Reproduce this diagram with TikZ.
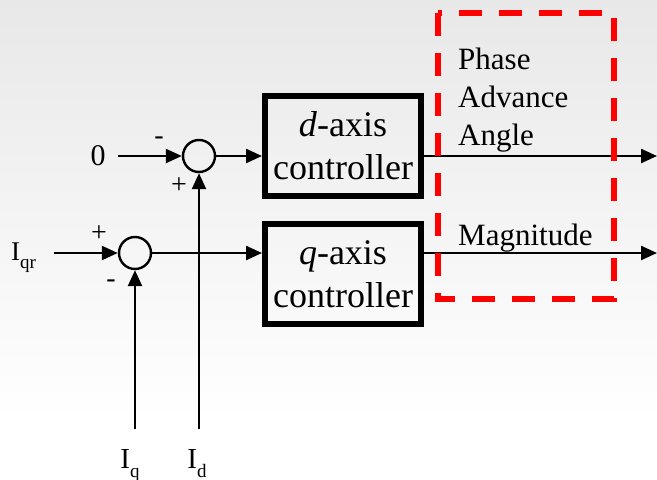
\documentclass[tikz,border=0pt]{standalone}
\usepackage{fontspec}
\setmainfont{Liberation Serif}
\usetikzlibrary{arrows.meta}
\newcommand{\mysub}[1]{\raisebox{-0.32em}{\fontsize{19}{19}\selectfont #1}}
\begin{document}
\begin{tikzpicture}[x=1pt,y=-1pt,
  conn/.style={line width=2.4pt,-{Triangle[length=16pt,width=14pt]}},
  sumj/.style={circle,draw,line width=2.4pt,minimum size=32pt,inner sep=0pt},
  ctrl/.style={draw,line width=6pt,minimum width=156pt,minimum height=100pt,inner sep=0pt,align=center,font=\fontsize{36}{43}\selectfont},
  lbl/.style={inner sep=0pt,anchor=base west,font=\fontsize{31}{38}\selectfont},
  sgn/.style={inner sep=0pt,font=\fontsize{28}{28}\selectfont},
  red box/.style={draw=red,line width=5.5pt,dash pattern=on 23pt off 17pt}]
\useasboundingbox (0,0) rectangle (657,480);
\shade[top color=black!9,bottom color=white] (0,0) rectangle (657,420);
\fill[white] (0,420) rectangle (657,480);
% summing junctions
\node[sumj] (s1) at (199,156) {};
\node[sumj] (s2) at (135,253) {};
% controllers
\node[ctrl] (d) at (343,145.5) {\textit{d}-axis\\controller};
\node[ctrl] (q) at (343,274) {\textit{q}-axis\\controller};
% inputs
\node[inner sep=0pt,anchor=base,font=\fontsize{30}{30}\selectfont] (zero) at (98,165) {0};
\node[inner sep=0pt,anchor=base west,font=\fontsize{27}{27}\selectfont] (iqr) at (11,260) {I\mysub{qr}};
\node[inner sep=0pt,anchor=base,font=\fontsize{29}{29}\selectfont] (iq) at (130,468) {I\mysub{q}};
\node[inner sep=0pt,anchor=base,font=\fontsize{29}{29}\selectfont] (id) at (197,468) {I\mysub{d}};
\coordinate (zin) at (118,156);
\coordinate (qrin) at (54,253);
\coordinate (iqb) at (135,429);
\coordinate (idb) at (199,429);
\coordinate (dout) at (657,156);
\coordinate (qout) at (657,253);
% signs
\node[sgn] (m1) at (159,141) {-};
\node[sgn] (p1) at (179,186) {+};
\node[sgn] (p2) at (99,234) {+};
\node[sgn] (m2) at (111,284) {-};
% connectors
\draw[conn] (zin) -- (s1.west);
\draw[conn] (idb) -- (s1.south);
\draw[conn] (qrin) -- (s2.west);
\draw[conn] (iqb) -- (s2.south);
\draw[conn] (s1.east) -- (d.west |- s1.east);
\draw[conn] (s2.east) -- (q.west |- s2.east);
\draw[conn] (d.east |- dout) -- (dout);
\draw[conn] (q.east |- qout) -- (qout);
% red dashed region
\draw[red box] (438,13) rectangle (614,299);
% output labels
\node[lbl] (ph) at (458,69) {Phase};
\node[lbl] (adv) at (458,107) {Advance};
\node[lbl] (ang) at (458,145) {Angle};
\node[lbl] (mag) at (458,245) {Magnitude};
\end{tikzpicture}
\end{document}
